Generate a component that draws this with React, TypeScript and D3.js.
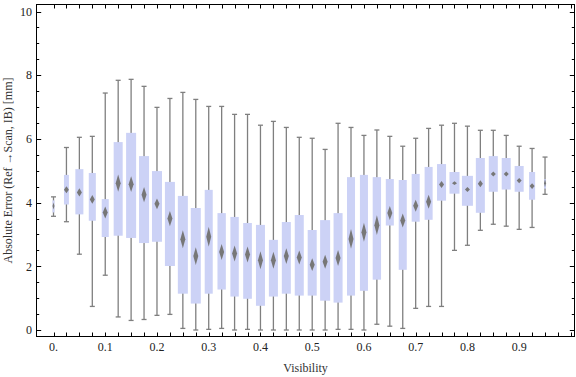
import React from "react";
import * as d3 from "d3";

// Visibility categories (box positions)
const visibility = [
  0, 0.025, 0.05, 0.075, 0.1, 0.125, 0.15, 0.175, 0.2, 0.225,
  0.25, 0.275, 0.3, 0.325, 0.35, 0.375, 0.4, 0.425, 0.45, 0.475,
  0.5, 0.525, 0.55, 0.575, 0.6, 0.625, 0.65, 0.675, 0.7, 0.725,
  0.75, 0.775, 0.8, 0.825, 0.85, 0.875, 0.9, 0.925, 0.95,
];

const whiskerLow = [
  3.57, 3.4, 2.38, 0.74, 1.72, 0.41, 0.3, 0.33, 0.46, 0.49,
  0.05, 0.0, 0.02, 0.05, 0.0, 0.02, 0.0, 0.0, 0.0, 0.0,
  0.0, 0.0, 0.02, 0.02, 0.0, 0.18, 0.12, 0.05, 0.68, 0.74,
  0.74, 2.5, 2.66, 3.13, 3.32, 3.26, 3.16, 3.22, 4.26,
];

const q1 = [
  3.69, 3.94, 3.63, 3.43, 2.92, 2.96, 2.89, 2.73, 2.77, 2.01,
  1.14, 0.83, 1.14, 1.27, 1.05, 0.98, 0.76, 1.05, 1.14, 1.08,
  1.08, 0.92, 0.86, 1.08, 1.23, 1.58, 3.28, 1.89, 3.4, 3.46,
  4.06, 4.28, 3.9, 3.68, 4.34, 4.41, 4.34, 4.09, 4.44,
];

const median = [
  3.89, 4.4, 4.32, 4.1, 3.69, 4.61, 4.58, 4.25, 3.96, 3.5,
  2.85, 2.32, 2.93, 2.45, 2.4, 2.37, 2.19, 2.19, 2.32, 2.28,
  2.05, 2.14, 2.26, 2.86, 3.07, 3.29, 3.67, 3.44, 3.9, 4.03,
  4.57, 4.61, 4.41, 4.59, 4.9, 4.9, 4.69, 4.52, 4.61,
];

const q3 = [
  4.07, 4.87, 5.05, 4.93, 4.11, 5.9, 6.19, 5.46, 4.99, 4.65,
  4.21, 3.83, 4.4, 3.67, 3.55, 3.36, 3.3, 2.83, 3.39, 3.61,
  3.14, 3.45, 3.67, 4.8, 4.87, 4.8, 4.74, 4.71, 4.9, 5.12,
  5.21, 4.96, 4.84, 5.4, 5.46, 5.4, 5.15, 4.96, 4.74,
];

const whiskerHigh = [
  4.18, 5.73, 6.05, 6.08, 7.44, 7.84, 7.87, 7.65, 6.99, 7.27,
  7.46, 7.24, 7.02, 7.02, 6.77, 6.77, 6.43, 6.55, 6.36, 6.05,
  6.02, 5.67, 6.49, 6.36, 6.11, 6.28, 6.08, 5.77, 6.02, 6.33,
  6.43, 6.49, 6.4, 6.27, 6.27, 6.11, 5.77, 5.7, 5.43,
];

// relative sample weight (drives box width)
const weight = [
  0.18, 0.45, 0.73, 0.64, 0.64, 0.82, 0.91, 0.91, 0.91, 0.91,
  0.91, 0.91, 0.73, 0.76, 0.76, 0.79, 0.82, 0.82, 0.82, 0.82,
  0.82, 0.91, 0.82, 0.73, 0.73, 0.76, 0.73, 0.73, 0.73, 0.73,
  0.82, 0.91, 1.0, 0.82, 0.82, 0.82, 0.82, 0.55, 0.18,
];

// half-width of median confidence interval
const medianCI = [
  0.11, 0.11, 0.13, 0.14, 0.19, 0.27, 0.25, 0.24, 0.17, 0.24,
  0.28, 0.28, 0.31, 0.25, 0.25, 0.25, 0.28, 0.27, 0.25, 0.22,
  0.2, 0.22, 0.25, 0.31, 0.3, 0.31, 0.22, 0.22, 0.19, 0.22,
  0.11, 0.06, 0.08, 0.11, 0.08, 0.08, 0.08, 0.09, 0.13,
];

const xTickValues = [0, 0.1, 0.2, 0.3, 0.4, 0.5, 0.6, 0.7, 0.8, 0.9];
const xTickLabels = ["0.", "0.1", "0.2", "0.3", "0.4", "0.5", "0.6", "0.7", "0.8", "0.9"];
const yTickValues = [0, 2, 4, 6, 8, 10];
const yTickLabels = ["0", "2", "4", "6", "8", "10"];

const W = 576;
const H = 377;
const frame = { left: 36.5, right: 574.5, top: 4.5, bottom: 336.5 };

export default function App() {
  const x = d3.scaleLinear().domain([0, 1]).range([53.5, 570.9]);
  const y = d3.scaleLinear().domain([0, 10]).range([330, 11.5]);
  const wScale = d3.scaleLinear().domain([0, 1]).range([0, 11]);

  const xMinor = d3.range(0, 1.0001, 0.025);
  const yMinor = d3.range(0, 10.0001, 0.5);

  const font = "'Liberation Serif', 'Times New Roman', serif";
  const whiskerColor = "#7f7f7f";
  const boxColor = "rgb(204,210,246)";

  return (
    <svg
      width={W}
      height={H}
      style={{ position: "absolute", left: 0, top: 0, background: "#fff" }}
      fontFamily={font}
    >
      <rect x={0} y={0} width={W} height={H} fill="#fff" />
      {/* boxes */}
      {visibility.map((v, i) => {
        const cx = x(v);
        const bw = wScale(weight[i]);
        const dw = Math.min(5, bw);
        const pts = [
          [cx, y(median[i] + medianCI[i])],
          [cx + dw / 2, y(median[i])],
          [cx, y(median[i] - medianCI[i])],
          [cx - dw / 2, y(median[i])],
        ]
          .map((p) => p.join(","))
          .join(" ");
        return (
          <g key={i}>
            <line x1={cx} x2={cx} y1={y(whiskerHigh[i])} y2={y(whiskerLow[i])} stroke={whiskerColor} strokeWidth={1.3} />
            <line x1={cx - 2.5} x2={cx + 2.5} y1={y(whiskerHigh[i])} y2={y(whiskerHigh[i])} stroke={whiskerColor} strokeWidth={1.3} />
            <line x1={cx - 2.5} x2={cx + 2.5} y1={y(whiskerLow[i])} y2={y(whiskerLow[i])} stroke={whiskerColor} strokeWidth={1.3} />
            <rect x={cx - bw / 2} y={y(q3[i])} width={bw} height={y(q1[i]) - y(q3[i])} fill={boxColor} />
            <polygon points={pts} fill="#777" />
          </g>
        );
      })}

      {/* frame */}
      <rect
        x={frame.left}
        y={frame.top}
        width={frame.right - frame.left}
        height={frame.bottom - frame.top}
        fill="none"
        stroke="#000"
        strokeWidth={1}
      />

      {/* x ticks bottom and top */}
      {xMinor.map((t, i) => (
        <g key={"xt" + i}>
          <line x1={Math.round(x(t)) + 0.5} x2={Math.round(x(t)) + 0.5} y1={frame.bottom} y2={frame.bottom - 4} stroke="#000" />
          <line x1={Math.round(x(t)) + 0.5} x2={Math.round(x(t)) + 0.5} y1={frame.top} y2={frame.top + 4} stroke="#000" />
        </g>
      ))}
      {/* y ticks left and right */}
      {yMinor.map((t, i) => {
        const major = Math.abs(t % 2) < 1e-6;
        const len = major ? 4.7 : 2.7;
        const yy = Math.round(y(t)) + 0.5;
        return (
          <g key={"yt" + i}>
            <line x1={frame.left} x2={frame.left + len} y1={yy} y2={yy} stroke="#000" />
            <line x1={frame.right} x2={frame.right - len} y1={yy} y2={yy} stroke="#000" />
          </g>
        );
      })}

      {/* tick labels */}
      {xTickValues.map((t, i) => (
        <text key={"xl" + i} x={x(t)} y={351} fontSize={12} textAnchor="middle" fill="#222">
          {xTickLabels[i]}
        </text>
      ))}
      {yTickValues.map((t, i) => (
        <text key={"yl" + i} x={32} y={y(t)} dy="0.35em" fontSize={12} textAnchor="end" fill="#222">
          {yTickLabels[i]}
        </text>
      ))}

      {/* axis labels */}
      <text x={(frame.left + frame.right) / 2} y={372} fontSize={12} textAnchor="middle" fill="#333">
        Visibility
      </text>
      <text
        transform={`translate(12, ${(frame.top + frame.bottom) / 2}) rotate(-90)`}
        fontSize={12}
        textAnchor="middle"
        fill="#333"
      >
        Absolute Error (Ref →Scan, IB) [mm]
      </text>
    </svg>
  );
}
